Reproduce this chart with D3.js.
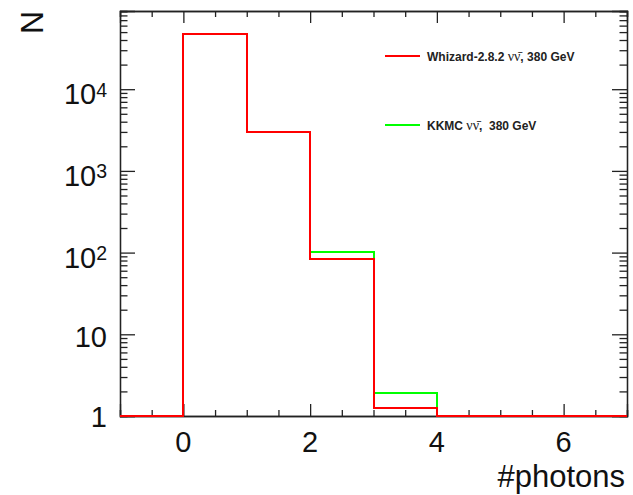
<!DOCTYPE html>
<html>
<head>
<meta charset="utf-8">
<script src="https://cdn.jsdelivr.net/npm/d3@7"></script>
<style>
  body { margin: 0; background: #fff; }
  svg { display: block; font-family: "Liberation Sans", Arial, sans-serif; }
</style>
</head>
<body>
<svg width="633" height="495"></svg>
<script>
// bin edges of the #photons histogram and entries per bin
var binEdges = [-1, 0, 1, 2, 3, 4, 5, 6, 7];
var whizard = [0, 46900, 2960, 84, 1.27, 0, 0, 0];
var kkmc = [0, 47800, 3020, 101, 1.93, 0, 0, 0];

var seriesNames = ["Whizard-2.8.2", "KKMC"];
var seriesColors = ["#ff0000", "#00ff00"];

var xMajor = [0, 2, 4, 6];
var yMajor = [1, 10, 100, 1000, 10000];
var yLabels = [["1", ""], ["10", ""], ["10", "2"], ["10", "3"], ["10", "4"]];

var svg = d3.select("svg"),
    margin = { top: 11, right: 6, bottom: 79, left: 120 },
    width = +svg.attr("width"),
    height = +svg.attr("height");

var x = d3.scaleLinear()
    .domain([-1, 7])
    .range([margin.left, width - margin.right]);

var y = d3.scaleLog()
    .domain([1, 90600])
    .range([height - margin.bottom, margin.top]);

// minor ticks
var xMinor = d3.range(-1, 7.001, 0.5).filter(function (d) { return xMajor.indexOf(d) < 0; });
var yMinor = [];
[1, 10, 100, 1000, 10000].forEach(function (dec) {
    for (var k = 2; k <= 9; k++) {
        if (dec * k <= y.domain()[1]) yMinor.push(dec * k);
    }
});

function tickAxis(axis, len, vals) {
    return axis.tickValues(vals).tickSize(len).tickFormat("");
}

function drawAxis(gen, transform) {
    var g = svg.append("g").attr("transform", transform).call(gen);
    g.select(".domain").attr("stroke", "#222").attr("stroke-width", 1.3);
    g.selectAll(".tick line").attr("stroke", "#222").attr("stroke-width", 1.3);
    return g;
}

var bottomY = height - margin.bottom,
    rightX = width - margin.right;

// x axes (bottom & top), ticks pointing into the frame
drawAxis(tickAxis(d3.axisBottom(x), -6, xMinor), "translate(0," + bottomY + ")");
drawAxis(tickAxis(d3.axisBottom(x), -12, xMajor), "translate(0," + bottomY + ")");
drawAxis(tickAxis(d3.axisTop(x), -6, xMinor), "translate(0," + margin.top + ")");
drawAxis(tickAxis(d3.axisTop(x), -12, xMajor), "translate(0," + margin.top + ")");

// y axes (left & right)
drawAxis(tickAxis(d3.axisLeft(y), -7.5, yMinor), "translate(" + margin.left + ",0)");
drawAxis(tickAxis(d3.axisLeft(y), -15, yMajor), "translate(" + margin.left + ",0)");
drawAxis(tickAxis(d3.axisRight(y), -7.5, yMinor), "translate(" + rightX + ",0)");
drawAxis(tickAxis(d3.axisRight(y), -15, yMajor), "translate(" + rightX + ",0)");

// x tick labels
svg.append("g")
    .selectAll("text")
    .data(xMajor)
    .enter().append("text")
    .attr("x", function (d) { return x(d); })
    .attr("y", bottomY + 36)
    .attr("text-anchor", "middle")
    .attr("font-size", 29)
    .attr("fill", "#111")
    .text(function (d) { return d; });

// y tick labels with exponents
var yl = svg.append("g")
    .selectAll("text")
    .data(yMajor)
    .enter().append("text")
    .attr("x", 107)
    .attr("y", function (d, i) {
        var off = yLabels[i][1] ? 15 : (i === 0 ? 10.5 : 12.3);
        return y(d) + off;
    })
    .attr("text-anchor", "end")
    .attr("font-size", 29)
    .attr("fill", "#111");
yl.append("tspan").text(function (d, i) { return yLabels[i][0]; });
yl.append("tspan")
    .attr("font-size", 19.5)
    .attr("dy", -7.5)
    .text(function (d, i) { return yLabels[i][1]; });

// axis titles
svg.append("text")
    .attr("x", rightX - 2)
    .attr("y", 487)
    .attr("text-anchor", "end")
    .attr("font-size", 31)
    .attr("fill", "#111")
    .text("#photons");

svg.append("text")
    .attr("transform", "translate(43," + margin.top + ") rotate(-90)")
    .attr("text-anchor", "end")
    .attr("font-size", 32)
    .attr("fill", "#111")
    .text("N");

// histograms as steps; empty bins sit on the lower edge of the frame
function stepPoints(vals) {
    var pts = binEdges.map(function (e, i) {
        var v = i < vals.length ? vals[i] : vals[vals.length - 1];
        return [e, Math.max(v, y.domain()[0])];
    });
    return pts;
}

// snap to whole pixels so the overlapping edges stay crisp
var step = d3.line()
    .curve(d3.curveStepAfter)
    .x(function (d) { return Math.round(x(d[0])); })
    .y(function (d) { return Math.round(y(d[1])); });

[kkmc, whizard].forEach(function (vals, j) {
    svg.append("path")
        .datum(stepPoints(vals))
        .attr("fill", "none")
        .attr("stroke", j === 0 ? seriesColors[1] : seriesColors[0])
        .attr("stroke-width", 2)
        .attr("d", step);
});

// legend
var legend = [
    { name: seriesNames[0], color: seriesColors[0], y: 56, gap: "" },
    { name: seriesNames[1], color: seriesColors[1], y: 125, gap: "\u00a0" }
];
var lg = svg.append("g").selectAll("g")
    .data(legend)
    .enter().append("g")
    .attr("transform", function (d) { return "translate(0," + d.y + ")"; });
lg.append("line")
    .attr("x1", 385).attr("x2", 420)
    .attr("stroke", function (d) { return d.color; })
    .attr("stroke-width", 2);
var lt = lg.append("text")
    .attr("x", 427)
    .attr("y", 4.5)
    .attr("font-size", 12)
    .attr("font-weight", "bold")
    .attr("fill", "#222");
lt.append("tspan").text(function (d) { return d.name + " "; });
lt.append("tspan")
    .attr("font-family", "'Liberation Serif', 'Times New Roman', serif")
    .attr("font-weight", "normal")
    .attr("font-size", 14)
    .text("\u03bd\u03bd\u0304");
lt.append("tspan").text(function (d) { return "," + d.gap + " 380 GeV"; });
</script>
</body>
</html>
